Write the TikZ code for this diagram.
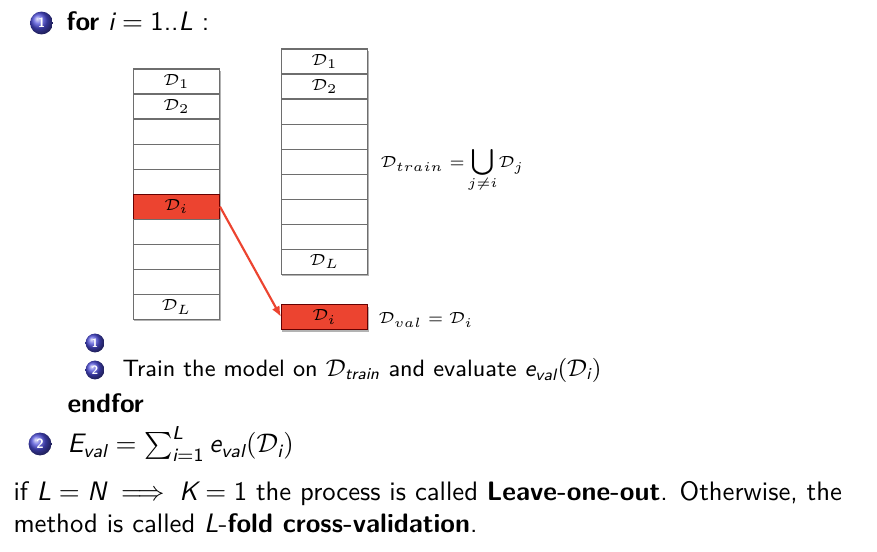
\documentclass[tikz,border=0pt]{standalone}
\usepackage{amsmath}
\usetikzlibrary{arrows.meta, chains, positioning, fit, backgrounds, shadows}
\definecolor{foldred}{RGB}{236,68,48}
\definecolor{beamblue}{rgb}{0.3,0.3,0.85}
\definecolor{cellgray}{RGB}{110,110,110}
\newcommand{\si}[1]{\text{\itshape #1}}
\newcommand{\bigU}{\mathop{\mbox{\scalebox{1.5}{$\bigcup$}}}}
\tikzset{
  cell/.style={
    rectangle,
    minimum width=32.3pt,
    minimum height=9.3pt,
    inner sep=0pt,
    outer sep=0pt,
    draw=cellgray,
    fill=white,
    font=\fontsize{6.5}{7}\selectfont
  },
  redcell/.style={
    cell,
    draw=red!40!black,
    fill=foldred
  },
  stackshadow/.style={
    inner sep=0pt,
    fill=white,
    drop shadow={shadow xshift=0.5pt, shadow yshift=-0.8pt, opacity=0.6}
  },
  arrow/.style={foldred, thick, -{Latex[length=4pt, width=3.2pt]}},
  ballnum/.style={
    circle,
    ball color=beamblue,
    text=white,
    inner sep=0pt,
    minimum size=8.5pt,
    font=\sffamily\bfseries\fontsize{5}{5}\selectfont
  },
  subball/.style={
    ballnum,
    minimum size=7pt,
    font=\sffamily\bfseries\fontsize{4.5}{4.5}\selectfont
  },
  line/.style={
    anchor=base west,
    inner sep=0pt,
    font=\sffamily\fontsize{9.92}{12}\selectfont
  },
  subline/.style={
    line,
    font=\sffamily\fontsize{8.78}{11}\selectfont
  },
  eqn/.style={
    anchor=base west,
    inner sep=0pt,
    font=\fontsize{6.4}{8}\selectfont
  }
}

\begin{document}
\begin{tikzpicture}[x=0.3717pt, y=-0.3717pt]
    \useasboundingbox (0,0) rectangle (877,552);

    % loop header
    \node (b1) [ballnum] at (41.5,23) {1};
    \node (forline) [line] at (66,31) {\textbf{for} $\si{i} = \text{1..}\si{L}$ :};

    % all folds, D_i held out
    \begin{scope}[start chain=lft going below, node distance=0pt]
    \node (l1) [cell, on chain, anchor=north] at (176.5,69) {$\mathcal{D}_1$};
    \node (l2) [cell, on chain] {$\mathcal{D}_2$};
    \node (l3) [cell, on chain] {};
    \node (l4) [cell, on chain] {};
    \node (l5) [cell, on chain] {};
    \node (l6) [redcell, on chain] {$\mathcal{D}_i$};
    \node (l7) [cell, on chain] {};
    \node (l8) [cell, on chain] {};
    \node (l9) [cell, on chain] {};
    \node (l10) [cell, on chain] {$\mathcal{D}_L$};
    \end{scope}

    % training folds
    \begin{scope}[start chain=rgt going below, node distance=0pt]
    \node (r1) [cell, on chain, anchor=north] at (324.5,49) {$\mathcal{D}_1$};
    \node (r2) [cell, on chain] {$\mathcal{D}_2$};
    \node (r3) [cell, on chain] {};
    \node (r4) [cell, on chain] {};
    \node (r5) [cell, on chain] {};
    \node (r6) [cell, on chain] {};
    \node (r7) [cell, on chain] {};
    \node (r8) [cell, on chain] {};
    \node (r9) [cell, on chain] {$\mathcal{D}_L$};
    \end{scope}

    % validation fold
    \node (val) [redcell, drop shadow={shadow xshift=0.5pt, shadow yshift=-0.8pt, opacity=0.6}] at (324.5,317) {$\mathcal{D}_i$};

    \begin{scope}[on background layer]
    \node (lstack) [stackshadow, fit=(l1)(l10)] {};
    \node (rstack) [stackshadow, fit=(r1)(r9)] {};
    \end{scope}

    \draw[arrow] (l6.east) -- (val.west);

    \node (trainlab) [eqn] at (380,168) {$\mathcal{D}_{train}=\bigU\limits_{\makebox[0pt]{$\scriptstyle j\neq i$}}\mathcal{D}_j$};
    \node (vallab) [eqn] at (378,324) {$\mathcal{D}_{val}=\mathcal{D}_i$};

    % loop body
    \node (sb1) [subball] at (95,343) {1};
    \node (sb2) [subball] at (95,370) {2};
    \node (trainline) [subline] at (122,377) {Train the model on $\mathcal{D}_{\si{train}}$ and evaluate $\si{e}_{\si{val}}(\mathcal{D}_{\si{i}})$};
    \node (endfor) [line] at (67,413) {\textbf{endfor}};

    % total error
    \node (b2) [ballnum] at (40,444) {2};
    \node (evalline) [line] at (67,453) {$\si{E}_{\si{val}} = \sum_{\si{i}=\text{1}}^{\si{L}} \si{e}_{\si{val}}(\mathcal{D}_{\si{i}})$};

    \node (note1) [line] at (13,501) {if $\si{L} = \si{N} \implies \si{K} = \text{1}$ the process is called \textbf{Leave-one-out}. Otherwise, the};
    \node (note2) [line] at (13,533) {method is called \textit{L}-\textbf{fold cross-validation}.};
\end{tikzpicture}
\end{document}
